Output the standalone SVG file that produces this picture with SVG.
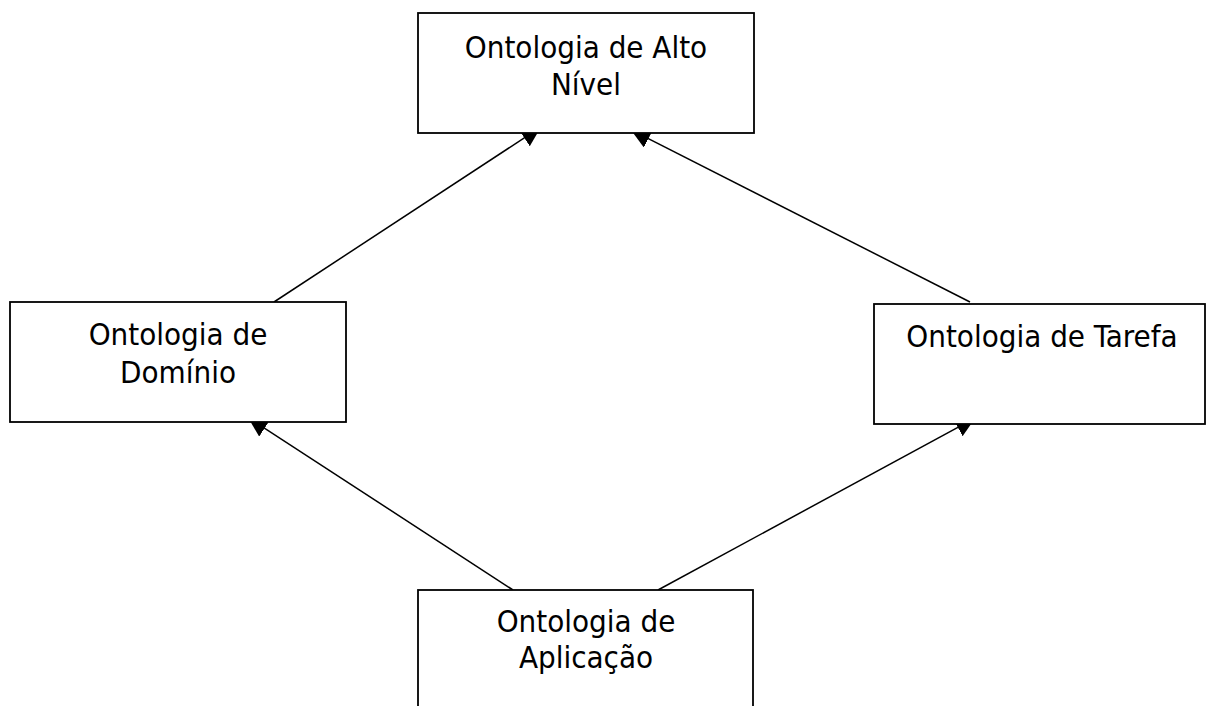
<svg xmlns="http://www.w3.org/2000/svg" width="1211" height="706" viewBox="0 0 1211 706">
  <style>
    .box { fill: #ffffff; stroke: #000000; stroke-width: 1.8; }
    .lbl { font-family: "DejaVu Sans Condensed", "DejaVu Sans", sans-serif; font-stretch: condensed; font-size: 31px; fill: #000000; text-anchor: middle; }
    .conn { stroke: #000000; stroke-width: 1.5; fill: none; marker-end: url(#arrow); }
  </style>
  <defs>
    <marker id="arrow" markerUnits="userSpaceOnUse" markerWidth="22" markerHeight="22" refX="20" refY="10" orient="auto">
      <path d="M0,0 L20,10 L0,20 Z" fill="#000000"/>
    </marker>
  </defs>
  <rect width="1211" height="706" fill="#ffffff"/>
  <g id="connectors">
    <line class="conn" x1="274" y1="302" x2="541" y2="126.9"/>
    <line class="conn" x1="970" y1="302" x2="630.6" y2="129.6"/>
    <line class="conn" x1="513" y1="590" x2="247.9" y2="417.3"/>
    <line class="conn" x1="658" y1="590" x2="975.4" y2="417.8"/>
  </g>
  <g id="node-alto-nivel">
    <rect class="box" x="418" y="13" width="336" height="120"/>
    <text class="lbl" x="586" y="58">Ontologia de Alto</text>
    <text class="lbl" x="586" y="95">Nível</text>
  </g>
  <g id="node-dominio">
    <rect class="box" x="10" y="302" width="336" height="120"/>
    <text class="lbl" x="178" y="345">Ontologia de</text>
    <text class="lbl" x="178" y="383">Domínio</text>
  </g>
  <g id="node-tarefa">
    <rect class="box" x="874" y="304" width="331" height="120"/>
    <text class="lbl" x="1042" y="347">Ontologia de Tarefa</text>
  </g>
  <g id="node-aplicacao">
    <rect class="box" x="418" y="590" width="335" height="130"/>
    <text class="lbl" x="586" y="632">Ontologia de</text>
    <text class="lbl" x="586" y="668">Aplicação</text>
  </g>
</svg>
